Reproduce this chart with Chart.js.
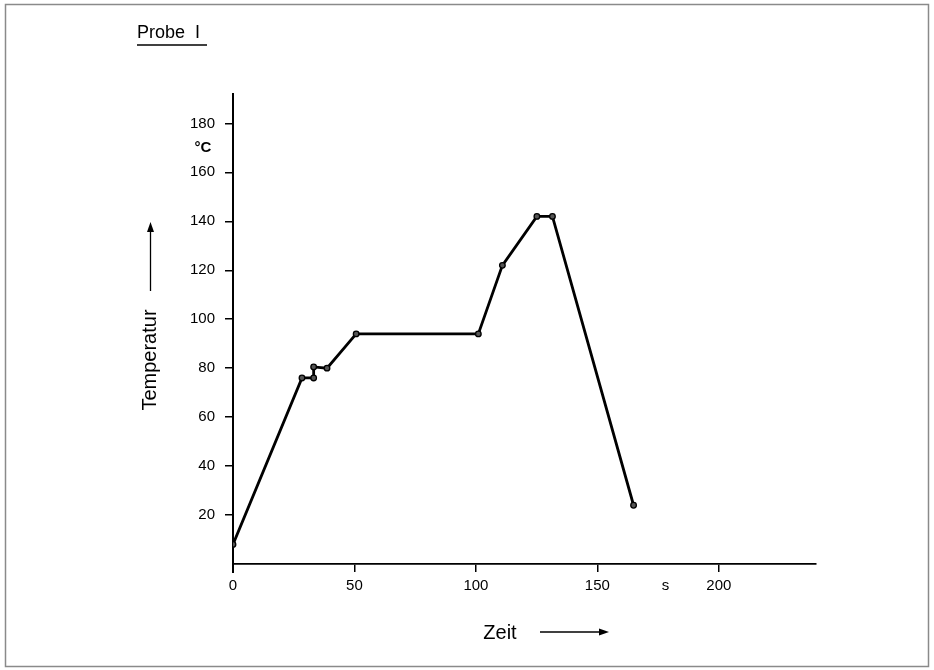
<!DOCTYPE html>
<html>
<head>
<meta charset="utf-8">
<script src="https://cdn.jsdelivr.net/npm/chart.js@4/dist/chart.umd.min.js"></script>
<style>
html,body{margin:0;padding:0;background:#fff;}
#wrap{position:relative;width:934px;height:670px;}
</style>
</head>
<body>
<div id="wrap"><canvas id="c" width="934" height="670"></canvas></div>
<script>
// Data
const timeSeconds = [0, 28.4, 33.2, 33.2, 38.7, 50.7, 101, 110.9, 125.1, 131.5, 164.9];
const temperatureC = [8, 76, 76, 80.5, 80, 94, 94, 122, 142, 142, 24];
const xTickValues = [0, 50, 100, 150, 200];
const yTickValues = [20, 40, 60, 80, 100, 120, 140, 160, 180];
const titleText = 'Probe  I';
const xTitle = 'Zeit';
const yTitle = 'Temperatur';
const xUnit = 's';
const yUnit = '°C';

const FONT = 'Liberation Sans, Arial, Helvetica, sans-serif';

const points = timeSeconds.map((t, i) => ({x: t, y: temperatureC[i]}));

const decor = {
  id: 'decor',
  beforeDraw(chart) {
    const ctx = chart.ctx;
    ctx.save();
    ctx.fillStyle = '#fff';
    ctx.fillRect(0, 0, chart.width, chart.height);
    ctx.restore();
  },
  afterDraw(chart) {
    const ctx = chart.ctx;
    const xs = chart.scales.x, ys = chart.scales.y;
    const area = chart.chartArea;
    ctx.save();
    // frame
    ctx.strokeStyle = '#8a8a8a';
    ctx.lineWidth = 1.5;
    ctx.strokeRect(5.5, 4.5, 923, 662);
    // y axis extension below x axis
    ctx.strokeStyle = '#000';
    ctx.lineWidth = 2;
    ctx.beginPath();
    ctx.moveTo(area.left, area.bottom);
    ctx.lineTo(area.left, area.bottom + 9);
    ctx.stroke();
    // title
    ctx.fillStyle = '#000';
    ctx.font = '18px ' + FONT;
    ctx.textAlign = 'left';
    ctx.textBaseline = 'alphabetic';
    ctx.fillText(titleText, 137, 38);
    ctx.lineWidth = 1.3;
    ctx.beginPath();
    ctx.moveTo(137, 45);
    ctx.lineTo(207, 45);
    ctx.stroke();
    // units
    ctx.font = 'bold 15px ' + FONT;
    ctx.textAlign = 'center';
    ctx.textBaseline = 'middle';
    ctx.fillText(yUnit, 203, ys.getPixelForValue(170));
    ctx.font = '15px ' + FONT;
    ctx.fillText(xUnit, xs.getPixelForValue(178), area.bottom + 22);
    // x title with arrow
    ctx.font = '20px ' + FONT;
    ctx.textAlign = 'center';
    ctx.fillText(xTitle, 500, 633);
    ctx.lineWidth = 1.3;
    ctx.beginPath();
    ctx.moveTo(540, 632);
    ctx.lineTo(604, 632);
    ctx.stroke();
    ctx.beginPath();
    ctx.moveTo(609, 632);
    ctx.lineTo(599, 628.5);
    ctx.lineTo(599, 635.5);
    ctx.closePath();
    ctx.fill();
    // y title with arrow
    ctx.save();
    ctx.translate(150, 360);
    ctx.rotate(-Math.PI / 2);
    ctx.font = '20px ' + FONT;
    ctx.textAlign = 'center';
    ctx.textBaseline = 'middle';
    ctx.fillText(yTitle, 0, 0);
    ctx.restore();
    ctx.beginPath();
    ctx.moveTo(150.5, 291);
    ctx.lineTo(150.5, 228);
    ctx.stroke();
    ctx.beginPath();
    ctx.moveTo(150.5, 222);
    ctx.lineTo(147, 232);
    ctx.lineTo(154, 232);
    ctx.closePath();
    ctx.fill();
    ctx.restore();
  }
};

new Chart(document.getElementById('c'), {
  type: 'line',
  data: {
    datasets: [{
      data: points,
      borderColor: '#000',
      borderWidth: 2.8,
      pointRadius: 2.8,
      pointBorderWidth: 1.3,
      pointBackgroundColor: '#555',
      pointBorderColor: '#000',
      tension: 0,
      fill: false
    }]
  },
  options: {
    responsive: false,
    animation: false,
    devicePixelRatio: 1,
    layout: {padding: {left: 0, right: 118, top: 94, bottom: 0}},
    plugins: {legend: {display: false}, tooltip: {enabled: false}},
    scales: {
      x: {
        type: 'linear',
        min: 0,
        max: 240,
        afterBuildTicks: s => { s.ticks = xTickValues.map(v => ({value: v})); },
        afterFit: s => { s.height = 106; },
        ticks: {
          color: '#000',
          font: {family: FONT, size: 15},
          padding: 5,
          maxRotation: 0,
          autoSkip: false
        },
        grid: {
          drawOnChartArea: false,
          drawTicks: true,
          tickLength: 8,
          color: '#000',
          lineWidth: 1.5
        },
        border: {display: true, color: '#000', width: 1.8}
      },
      y: {
        type: 'linear',
        min: 0,
        max: 192,
        afterBuildTicks: s => { s.ticks = yTickValues.map(v => ({value: v})); },
        afterFit: s => { s.width = 233; },
        ticks: {
          color: '#000',
          font: {family: FONT, size: 15},
          padding: 10,
          autoSkip: false
        },
        grid: {
          drawOnChartArea: false,
          drawTicks: true,
          tickLength: 8,
          color: '#000',
          lineWidth: 1.5
        },
        border: {display: true, color: '#000', width: 2}
      }
    }
  },
  plugins: [decor]
});
</script>
</body>
</html>
